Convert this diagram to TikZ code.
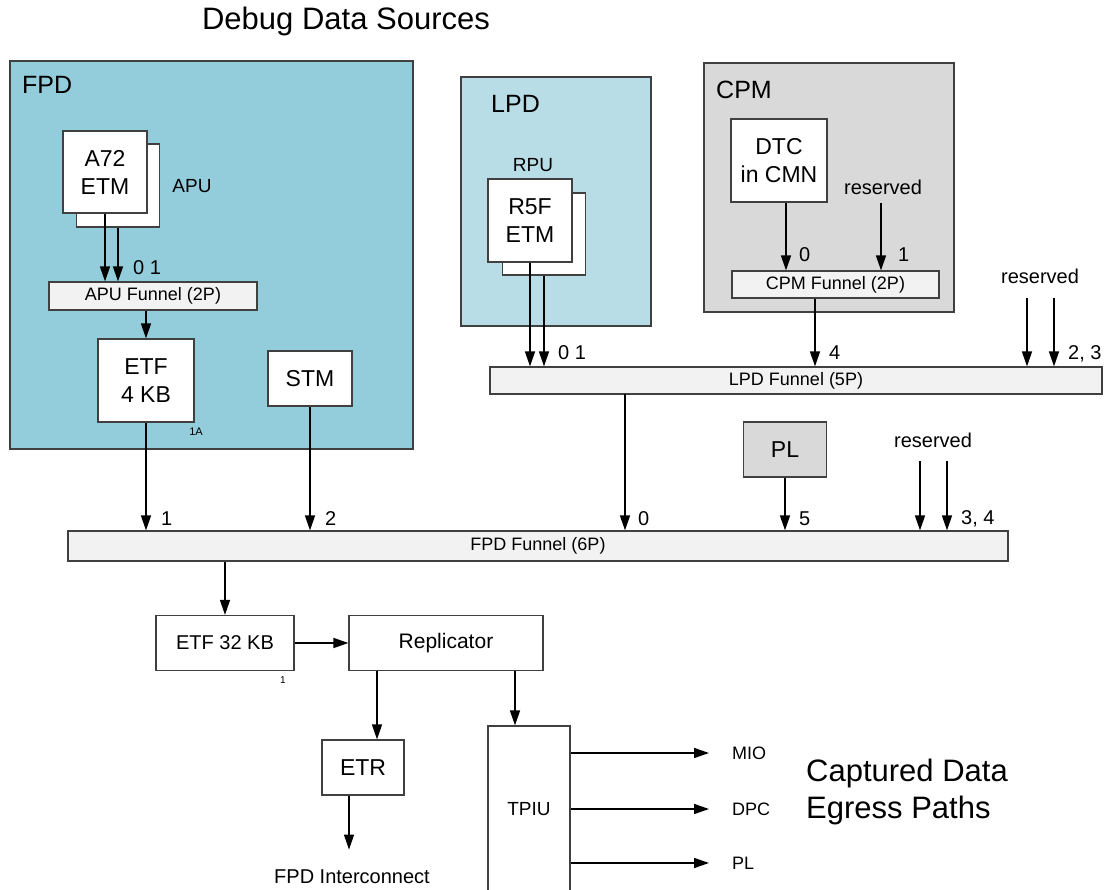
\documentclass[tikz,border=0pt]{standalone}
\usepackage{fontspec}
\setsansfont{Liberation Sans}
\usetikzlibrary{arrows.meta,positioning}
\definecolor{fpdBlue}{HTML}{93CDDB}
\definecolor{lpdBlue}{HTML}{B8DDE7}
\definecolor{cpmGray}{HTML}{D9D9D9}
\definecolor{funGray}{HTML}{F2F2F2}
\definecolor{edgeGray}{HTML}{404040}

\begin{document}
\begin{tikzpicture}[
  x=1pt, y=-1pt,
  font=\sffamily,
  fs/.style 2 args={font=\sffamily\fontsize{#1}{#2}\selectfont},
  region/.style={draw=edgeGray, line width=1.2pt, fill=#1, inner sep=0pt},
  blk/.style={draw=edgeGray, line width=1.2pt, fill=#1, inner sep=0pt, align=center, fs={23}{28}},
  blk/.default=white,
  funnel/.style={draw=edgeGray, line width=1.2pt, fill=funGray, inner sep=0pt, fs={18}{20}},
  arr/.style={-{Triangle[length=15pt,width=10pt]}, line width=1.5pt},
  port/.style={anchor=west, inner sep=0pt, fs={20}{24}},
  tag/.style={inner sep=0pt, fs={20}{24}},
  tiny/.style={inner sep=0pt, fs={11}{13}},
]
\useasboundingbox (0,0) rectangle (1104,890);
\clip (0,0) rectangle (1104,890);

\node[inner sep=0pt, fs={31}{36}] (title) at (346,21) {Debug Data Sources};

% power domains
\node[region=fpdBlue, minimum width=403, minimum height=388] (fpd) at (211.5,255) {};
\node[region=lpdBlue, minimum width=190, minimum height=249] (lpd) at (556,201.5) {};
\node[region=cpmGray, minimum width=250, minimum height=249] (cpm) at (829,187.5) {};
\node[anchor=west, inner sep=0pt, fs={25}{30}] (fpdlbl) at (22,85) {FPD};
\node[anchor=west, inner sep=0pt, fs={25}{30}] (lpdlbl) at (491,104) {LPD};
\node[anchor=west, inner sep=0pt, fs={25}{30}] (cpmlbl) at (716,90) {CPM};

% FPD sources
\node[blk, minimum width=83, minimum height=83] (a72b) at (118,185.5) {};
\node[blk, minimum width=84, minimum height=82] (a72) at (105,172) {A72\\ETM};
\node[tag, fs={19}{24}] (apu) at (192,186) {APU};
\node[funnel, minimum width=208, minimum height=28] (apufun) at (153,296) {APU Funnel (2P)};
\node[blk, minimum width=96, minimum height=83] (etf4) at (146,380.5) {ETF\\4 KB};
\node[tiny, fs={11}{13}] (etf4n) at (196,432) {1A};
\node[blk, minimum width=84, minimum height=55] (stm) at (310,378.5) {STM};
\node[port] (apuport) at (133,268) {0 1};
\draw[arr] (a72.south) -- (a72.south |- apufun.north);
\draw[arr] (a72b.south) -- (a72b.south |- apufun.north);
\draw[arr] (apufun.south -| etf4.north) -- (etf4.north);

% LPD sources
\node[tag, fs={19}{24}] (rpu) at (533,165) {RPU};
\node[blk, minimum width=83, minimum height=82] (r5fb) at (544,234) {};
\node[blk, minimum width=84, minimum height=83] (r5f) at (530,220.5) {R5F\\ETM};

% CPM sources
\node[blk, minimum width=96, minimum height=83] (dtc) at (779,160.5) {DTC\\in CMN};
\node[tag] (cpmres) at (883,187) {reserved};
\node[funnel, minimum width=207, minimum height=27] (cpmfun) at (835.5,284.5) {CPM Funnel (2P)};
\node[port] (cpmp0) at (799,255) {0};
\node[port] (cpmp1) at (898,255) {1};
\coordinate (cpmres0) at (881,203);
\draw[arr] ([xshift=7pt]dtc.south) -- ([xshift=7pt]dtc.south |- cpmfun.north);
\draw[arr] (cpmres0) -- (cpmres0 |- cpmfun.north);

% LPD funnel
\node[funnel, minimum width=612, minimum height=27] (lpdfun) at (796,380.5) {LPD Funnel (5P)};
\node[tag] (lpdres) at (1040,276) {reserved};
\coordinate (lpdres0) at (1027,298);
\coordinate (lpdres1) at (1054,298);
\node[port] (lpdp01) at (558,353) {0 1};
\node[port] (lpdp4) at (829,353) {4};
\node[port] (lpdp23) at (1068,354) {2, 3};
\draw[arr] (r5f.south) -- (r5f.south |- lpdfun.north);
\draw[arr] (r5fb.south) -- (r5fb.south |- lpdfun.north);
\draw[arr] ([xshift=-20.5pt]cpmfun.south) -- ([xshift=-20.5pt]cpmfun.south |- lpdfun.north);
\draw[arr] (lpdres0) -- (lpdres0 |- lpdfun.north);
\draw[arr] (lpdres1) -- (lpdres1 |- lpdfun.north);

% FPD funnel
\node[blk=cpmGray, minimum width=83, minimum height=55] (pl) at (785,449.5) {PL};
\node[tag] (fpdres) at (933,440) {reserved};
\coordinate (fpdres0) at (920,461);
\coordinate (fpdres1) at (947,461);
\node[funnel, minimum width=940, minimum height=30] (fpdfun) at (538,546) {FPD Funnel (6P)};
\coordinate (lpdout) at (625,394);
\node[port] (fpdp1) at (161,519) {1};
\node[port] (fpdp2) at (325,519) {2};
\node[port] (fpdp0) at (638,519) {0};
\node[port] (fpdp5) at (799,519) {5};
\node[port] (fpdp34) at (961,519) {3, 4};
\draw[arr] (etf4.south) -- (etf4.south |- fpdfun.north);
\draw[arr] (stm.south) -- (stm.south |- fpdfun.north);
\draw[arr] (lpdout) -- (lpdout |- fpdfun.north);
\draw[arr] (pl.south) -- (pl.south |- fpdfun.north);
\draw[arr] (fpdres0) -- (fpdres0 |- fpdfun.north);
\draw[arr] (fpdres1) -- (fpdres1 |- fpdfun.north);

% sinks
\node[blk, fs={20}{24}, minimum width=138, minimum height=55] (etf32) at (225,643) {ETF 32 KB};
\node[tiny, fs={10}{12}] (etf32n) at (283,680) {1};
\node[blk, fs={21}{24}, minimum width=194, minimum height=55] (rep) at (446,643) {Replicator};
\node[blk, minimum width=82, minimum height=55] (etr) at (363,767.5) {ETR};
\node[tag] (fpdic) at (352,877) {FPD Interconnect};
\node[blk, fs={19}{24}, minimum width=82, minimum height=166] (tpiu) at (529,809) {TPIU};
\draw[arr] (fpdfun.south -| etf32.north) -- (etf32.north);
\draw[arr] (etf32.east) -- (rep.west);
\draw[arr] ([xshift=-69pt]rep.south) -- ([xshift=-69pt]rep.south |- etr.north);
\draw[arr] ([xshift=69pt]rep.south) -- ([xshift=69pt]rep.south |- tpiu.north);
\draw[arr] ([xshift=-14pt]etr.south) -- ++(0,54);

% egress
\node[port, fs={18}{22}] (mio) at (732,753) {MIO};
\node[port, fs={18}{22}] (dpc) at (732,809) {DPC};
\node[port, fs={18}{22}] (plout) at (732,863) {PL};
\draw[arr] (tpiu.east |- mio.west) -- ([xshift=-23pt]mio.west);
\draw[arr] (tpiu.east |- dpc.west) -- ([xshift=-23pt]dpc.west);
\draw[arr] (tpiu.east |- plout.west) -- ([xshift=-23pt]plout.west);
\node[anchor=west, inner sep=0pt, align=left, fs={31}{37}] (egress) at (806,792) {Captured Data\\Egress Paths};
\end{tikzpicture}
\end{document}
